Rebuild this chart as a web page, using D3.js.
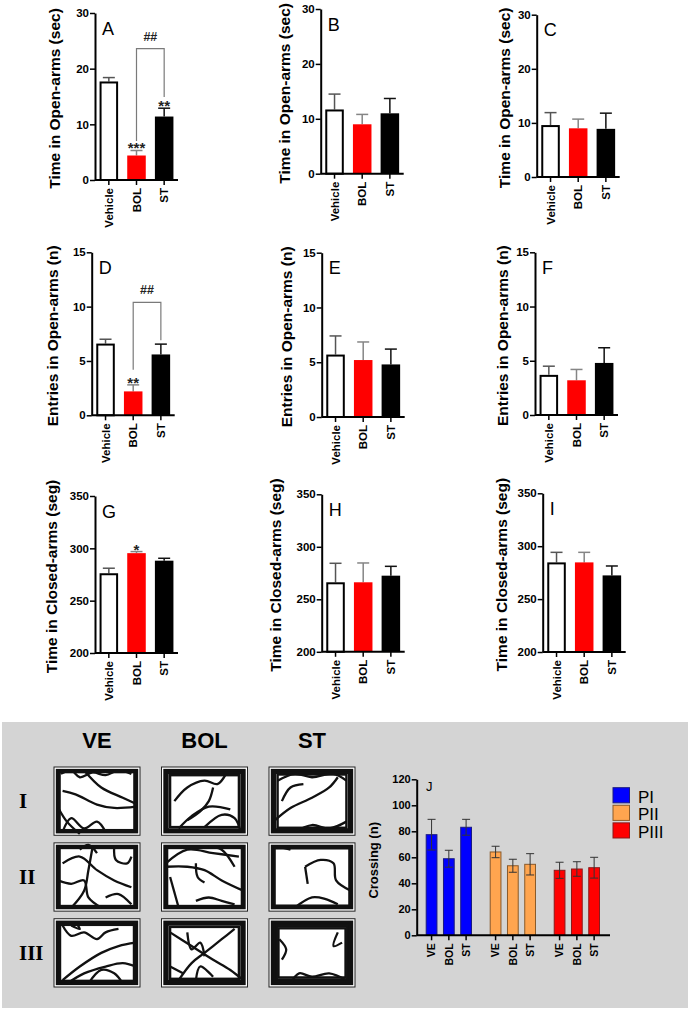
<!DOCTYPE html>
<html><head><meta charset="utf-8">
<script src="https://cdn.jsdelivr.net/npm/d3@7"></script>
<style>body{margin:0;background:#fff;} svg{display:block;font-family:"Liberation Sans",Arial,sans-serif;}</style>
</head><body><svg id="c" width="690" height="1010"></svg>
<script>
// ---------------- DATA ----------------
const groups = ["Vehicle", "BOL", "ST"];
const barColors = ["#ffffff", "#ff0000", "#000000"];
const errColors = ["#555555", "#858585", "#111111"];

const ticksOpenTime = [0, 10, 20, 30];
const ticksEntries = [0, 5, 10, 15];
const ticksClosed = [200, 250, 300, 350];
const ticksCross = [0, 20, 40, 60, 80, 100, 120];

const timeOpenA = [17.7, 4.4, 11.4];   const timeOpenA_sem = [0.7, 0.9, 1.5];
const timeOpenB = [11.7, 9.0, 11.0];   const timeOpenB_sem = [2.8, 1.8, 2.7];
const timeOpenC = [9.6, 9.0, 8.9];     const timeOpenC_sem = [2.3, 1.7, 2.9];
const entriesD = [6.6, 2.2, 5.6];      const entriesD_sem = [0.4, 0.6, 0.95];
const entriesE = [5.7, 5.2, 4.8];      const entriesE_sem = [1.7, 1.65, 1.4];
const entriesF = [3.7, 3.2, 4.8];      const entriesF_sem = [0.8, 1.0, 1.4];
const closedG = [276.2, 295.4, 288.2]; const closedG_sem = [4.8, 1.5, 2.3];
const closedH = [266.2, 266.2, 272.5]; const closedH_sem = [18.1, 18.4, 8.9];
const closedI = [284.7, 284.7, 272.4]; const closedI_sem = [9.5, 9.5, 8.9];

const sigA = ["", "***", "**"];
const sigD = ["", "**", ""];
const sigG = ["", "*", ""];
// bracket: [BOL leg bottom, top, ST leg bottom] in data units
const bracketA = [7.0, 23.6, 14.9];
const bracketD = [4.2, 10.4, 6.9];

const titleOpenTime = "Time in Open-arms (sec)";
const titleEntries = "Entries in Open-arms (n)";
const titleClosed = "Time in Closed-arms (seg)";

const periods = ["PI", "PII", "PIII"];
const crossGroups = ["VE", "BOL", "ST"];
const crossPI = [77.4, 58.9, 83.1];   const crossPI_sem = [11.8, 6.5, 6.1];
const crossPII = [64.1, 53.5, 54.6];  const crossPII_sem = [4.4, 5.0, 8.2];
const crossPIII = [50.0, 51.0, 52.0]; const crossPIII_sem = [6.2, 5.6, 8.0];
const periodColors = ["#0000ff", "#ffa54f", "#ff0000"];
const periodStroke = ["#1a1a80", "#8a5a2a", "#8b1a1a"];

const trackCols = ["VE", "BOL", "ST"];
const trackRows = ["I", "II", "III"];
// illustrative open-field trajectories (normalized box coordinates)
const trackLoops = [
  [[0.035,0.045],[0.05,0.06],[0.065,0.075]], [[0.035,0.045],[0.05,0.06],[0.07,0.085],[0.1,0.12]], [[0.035,0.045],[0.05,0.06],[0.07,0.085],[0.1,0.11]],
  [[0.035,0.045],[0.05,0.06],[0.065,0.075]], [[0.035,0.045],[0.05,0.06],[0.065,0.075]], [[0.035,0.045],[0.05,0.06],[0.065,0.08]],
  [[0.035,0.045],[0.05,0.06],[0.07,0.09]], [[0.035,0.045],[0.05,0.06],[0.07,0.085],[0.1,0.12]], [[0.035,0.045],[0.05,0.06],[0.07,0.085],[0.09,0.11],[0.11,0.14]]
];
const trackPaths = [
  [[[0.08,0.1],[0.2,0.05],[0.3,0.15],[0.45,0.08],[0.6,0.12],[0.75,0.05],[0.9,0.1]],
   [[0.35,0.05],[0.55,0.3],[0.8,0.45],[0.97,0.55]],
   [[0.1,0.35],[0.25,0.4],[0.5,0.55],[0.7,0.6],[0.95,0.58]],
   [[0.1,0.95],[0.2,0.75],[0.35,0.9],[0.5,0.8],[0.6,0.95]],
   [[0.05,0.6],[0.15,0.8],[0.3,0.98]]],
  [[[0.15,0.5],[0.3,0.3],[0.5,0.2],[0.65,0.25],[0.75,0.1]],
   [[0.2,0.9],[0.35,0.72],[0.55,0.58],[0.8,0.62]],
   [[0.5,0.88],[0.7,0.7],[0.85,0.75],[0.92,0.95]],
   [[0.6,0.3],[0.55,0.5],[0.45,0.65],[0.3,0.78]]],
  [[[0.1,0.2],[0.3,0.1],[0.5,0.15],[0.75,0.1],[0.9,0.2]],
   [[0.05,0.8],[0.25,0.6],[0.5,0.45],[0.7,0.3],[0.8,0.15]],
   [[0.15,0.5],[0.25,0.3],[0.4,0.25]],
   [[0.3,0.95],[0.5,0.85],[0.7,0.9],[0.9,0.8]]],
  [[[0.1,0.3],[0.3,0.2],[0.5,0.4],[0.7,0.55],[0.9,0.65]],
   [[0.45,0.05],[0.4,0.4],[0.35,0.7],[0.2,0.95]],
   [[0.05,0.55],[0.2,0.6],[0.35,0.55],[0.4,0.8],[0.55,0.95]],
   [[0.3,0.1],[0.4,0.03],[0.5,0.15]],
   [[0.7,0.05],[0.72,0.25],[0.85,0.3],[0.9,0.2]],
   [[0.6,0.8],[0.75,0.75],[0.9,0.9]]],
  [[[0.05,0.3],[0.3,0.1],[0.6,0.15],[0.9,0.2]],
   [[0.05,0.35],[0.3,0.35],[0.5,0.4],[0.7,0.55],[0.95,0.7]],
   [[0.4,0.3],[0.42,0.5],[0.5,0.58]],
   [[0.1,0.5],[0.2,0.95]],
   [[0.4,0.85],[0.55,0.8],[0.7,0.85],[0.85,0.9]],
   [[0.55,0.05],[0.7,0.1],[0.85,0.35]]],
  [[[0.42,0.35],[0.45,0.6]],
   [[0.42,0.35],[0.6,0.25],[0.75,0.3],[0.78,0.55],[0.95,0.7]],
   [[0.3,0.95],[0.5,0.8],[0.65,0.82],[0.8,0.9]],
   [[0.1,0.05],[0.25,0.1]]],
  [[[0.1,0.1],[0.2,0.25],[0.35,0.2],[0.5,0.3],[0.6,0.2],[0.75,0.15]],
   [[0.1,0.9],[0.3,0.7],[0.55,0.5],[0.75,0.4],[0.95,0.35]],
   [[0.15,0.95],[0.35,0.8],[0.6,0.7],[0.8,0.65],[0.95,0.7]],
   [[0.4,0.95],[0.55,0.75],[0.7,0.8],[0.8,0.95]],
   [[0.2,0.1],[0.3,0.15],[0.25,0.05]]],
  [[[0.1,0.2],[0.35,0.4],[0.6,0.6],[0.8,0.75],[0.95,0.9]],
   [[0.2,0.9],[0.35,0.65],[0.5,0.5],[0.7,0.3],[0.85,0.15]],
   [[0.3,0.2],[0.35,0.45],[0.45,0.35],[0.5,0.55]],
   [[0.4,0.9],[0.45,0.7],[0.6,0.85]],
   [[0.1,0.7],[0.25,0.8]]],
  [[[0.12,0.3],[0.2,0.45],[0.15,0.6]],
   [[0.8,0.2],[0.75,0.4],[0.85,0.35]],
   [[0.25,0.95],[0.35,0.8],[0.5,0.85],[0.7,0.8],[0.9,0.9]]]
];

// ---------------- LAYOUT ----------------
const svg = d3.select("#c");
const panels = [
  {id:"A", mean:timeOpenA, sem:timeOpenA_sem, ticks:ticksOpenTime, title:titleOpenTime, ax:95,    y0:180,   yT:13,    tx:55,  sig:sigA, br:bracketA},
  {id:"B", mean:timeOpenB, sem:timeOpenB_sem, ticks:ticksOpenTime, title:titleOpenTime, ax:320.7, y0:173.7, yT:9,     tx:285},
  {id:"C", mean:timeOpenC, sem:timeOpenC_sem, ticks:ticksOpenTime, title:titleOpenTime, ax:536.7, y0:177,   yT:14.7,  tx:505},
  {id:"D", mean:entriesD,  sem:entriesD_sem,  ticks:ticksEntries,  title:titleEntries,  ax:91.7,  y0:415.3, yT:252.3, tx:53,  sig:sigD, br:bracketD},
  {id:"E", mean:entriesE,  sem:entriesE_sem,  ticks:ticksEntries,  title:titleEntries,  ax:321.7, y0:417,   yT:252.7, tx:287},
  {id:"F", mean:entriesF,  sem:entriesF_sem,  ticks:ticksEntries,  title:titleEntries,  ax:535,   y0:415,   yT:252.3, tx:503},
  {id:"G", mean:closedG,   sem:closedG_sem,   ticks:ticksClosed,   title:titleClosed,   ax:95,    y0:653,   yT:496,   tx:52,  sig:sigG},
  {id:"H", mean:closedH,   sem:closedH_sem,   ticks:ticksClosed,   title:titleClosed,   ax:321.7, y0:651.8, yT:494.3, tx:276},
  {id:"I", mean:closedI,   sem:closedI_sem,   ticks:ticksClosed,   title:titleClosed,   ax:542.7, y0:652,   yT:493.3, tx:502}
];

function styleAxis(sel, fs) {
  sel.select(".domain").attr("stroke", "#000").attr("stroke-width", 2);
  sel.selectAll(".tick line").attr("stroke", "#000").attr("stroke-width", 1.5);
  sel.selectAll(".tick text").attr("fill", "#000").style("font-weight", "bold").style("font-size", fs + "px");
}

function drawPanel(p) {
  const g = svg.append("g");
  const y = d3.scaleLinear().domain([p.ticks[0], p.ticks[p.ticks.length - 1]]).range([p.y0, p.yT]);
  const x = d3.scaleBand().domain(groups).range([p.ax, p.ax + 83]).paddingInner(0.33).paddingOuter(0.165);
  const bw = x.bandwidth();

  // error bars (upper only)
  groups.forEach((k, i) => {
    const cx = x(k) + bw / 2;
    const yt = y(p.mean[i] + p.sem[i]);
    g.append("line").attr("x1", cx).attr("x2", cx).attr("y1", y(p.mean[i])).attr("y2", yt)
      .attr("stroke", errColors[i]).attr("stroke-width", 1.5);
    g.append("line").attr("x1", cx - 6).attr("x2", cx + 6).attr("y1", yt).attr("y2", yt)
      .attr("stroke", errColors[i]).attr("stroke-width", 1.5);
  });
  // bars
  g.selectAll("rect.bar").data(groups).join("rect")
    .attr("x", (d, i) => x(d) + (i === 0 ? 1 : 0))
    .attr("width", (d, i) => bw - (i === 0 ? 2 : 0))
    .attr("y", (d, i) => y(p.mean[i]) + (i === 0 ? 1 : 0))
    .attr("height", (d, i) => p.y0 - y(p.mean[i]) - (i === 0 ? 1 : 0))
    .attr("fill", (d, i) => barColors[i])
    .attr("stroke", (d, i) => i === 0 ? "#000" : "none")
    .attr("stroke-width", 2);

  // axes
  const ya = g.append("g").attr("transform", `translate(${p.ax},0)`)
    .call(d3.axisLeft(y).tickValues(p.ticks).tickSize(5).tickSizeOuter(0).tickPadding(1));
  styleAxis(ya, 11.5);
  const xa = g.append("g").attr("transform", `translate(0,${p.y0})`)
    .call(d3.axisBottom(x).tickSize(5).tickSizeOuter(0));
  xa.select(".domain").attr("d", `M${p.ax},0H${p.ax + 83}`);
  styleAxis(xa, 11.5);
  xa.selectAll(".tick text").attr("transform", "rotate(-90)").attr("x", -8).attr("y", 0)
    .attr("dy", "0.35em").attr("text-anchor", "end");

  // title
  g.append("text").attr("transform", `translate(${p.tx},${(p.y0 + p.yT) / 2 + 2}) rotate(-90)`)
    .attr("text-anchor", "middle").attr("dy", "0.35em")
    .style("font-weight", "bold").style("font-size", "15.5px").text(p.title);
  // panel letter
  g.append("text").attr("x", p.ax + 7).attr("y", p.yT + 21.5).style("font-size", "18px").text(p.id);

  // significance
  if (p.sig) {
    groups.forEach((k, i) => {
      if (!p.sig[i]) return;
      g.append("text").attr("x", x(k) + bw / 2).attr("y", y(p.mean[i] + p.sem[i]) + 3)
        .attr("text-anchor", "middle").style("font-size", "15px").style("font-weight", "bold")
        .attr("fill", "#222").text(p.sig[i]);
    });
  }
  if (p.br) {
    const x1 = x("BOL") + bw / 2, x2 = x("ST") + bw / 2;
    g.append("path")
      .attr("d", `M${x1},${y(p.br[0])}V${y(p.br[1])}H${x2}V${y(p.br[2])}`)
      .attr("fill", "none").attr("stroke", "#7a7a7a").attr("stroke-width", 1.2);
    g.append("text").attr("x", (x1 + x2) / 2).attr("y", y(p.br[1]) - 8)
      .attr("text-anchor", "middle").style("font-size", "12.5px").style("font-weight", "bold")
      .attr("fill", "#222").text("##");
  }
}
panels.forEach(drawPanel);

// ---------------- BOTTOM PANEL ----------------
svg.append("rect").attr("x", 2).attr("y", 722).attr("width", 686).attr("height", 286).attr("fill", "#d4d4d4");

const colX = d3.scaleBand().domain(trackCols).range([54, 355]).paddingInner(0.2);
const rowY = d3.scaleBand().domain(trackRows).range([767, 987]).paddingInner(0.1);
trackCols.forEach(c => {
  svg.append("text").attr("x", colX(c) + colX.bandwidth() / 2).attr("y", 748)
    .attr("text-anchor", "middle").style("font-weight", "bold").style("font-size", "22px").text(c);
});
trackRows.forEach(r => {
  svg.append("text").attr("x", 19).attr("y", rowY(r) + rowY.bandwidth() / 2 + 7)
    .style("font-family", "'Liberation Serif','Times New Roman',serif")
    .style("font-weight", "bold").style("font-size", "21px").text(r);
});
const tline = d3.line().curve(d3.curveCatmullRom.alpha(0.5));
trackRows.forEach((r, ri) => {
  trackCols.forEach((c, ci) => {
    const idx = ri * 3 + ci;
    const bx = colX(c), by = rowY(r), w = colX.bandwidth(), h = rowY.bandwidth();
    const sx = d3.scaleLinear().domain([0, 1]).range([bx, bx + w]);
    const sy = d3.scaleLinear().domain([0, 1]).range([by, by + h]);
    const bg = svg.append("g");
    bg.append("rect").attr("x", bx).attr("y", by).attr("width", w).attr("height", h)
      .attr("fill", "#fff").attr("stroke", "#222").attr("stroke-width", 1);
    trackLoops[idx].forEach(([ix, iy]) => {
      bg.append("rect").attr("x", sx(ix)).attr("y", sy(iy)).attr("width", sx(1 - ix) - sx(ix))
        .attr("height", sy(1 - iy) - sy(iy)).attr("fill", "none").attr("stroke", "#111").attr("stroke-width", 2.4);
    });
    trackPaths[idx].forEach(pts => {
      bg.append("path").attr("d", tline(pts.map(([u, v]) => [sx(u), sy(v)])))
        .attr("fill", "none").attr("stroke", "#111").attr("stroke-width", 2.3);
    });
  });
});

// Crossing chart J
(function () {
  const ax = 416.7, y0 = 935.3, yT = 779.3;
  const y = d3.scaleLinear().domain([0, 120]).range([y0, yT]);
  const xo = d3.scaleBand().domain(periods).range([ax + 9, ax + 183.3]).paddingInner(0.277).paddingOuter(0);
  const xi = d3.scaleBand().domain(crossGroups).range([0, xo.bandwidth()]).paddingInner(0.32).paddingOuter(0);
  const means = [crossPI, crossPII, crossPIII];
  const sems = [crossPI_sem, crossPII_sem, crossPIII_sem];
  const g = svg.append("g");
  periods.forEach((p, pi) => {
    const gg = g.append("g").attr("transform", `translate(${xo(p)},0)`);
    gg.selectAll("rect").data(crossGroups).join("rect")
      .attr("x", d => xi(d) + 0.5).attr("width", xi.bandwidth() - 1)
      .attr("y", (d, i) => y(means[pi][i])).attr("height", (d, i) => y0 - y(means[pi][i]))
      .attr("fill", periodColors[pi]).attr("stroke", periodStroke[pi]).attr("stroke-width", 1);
    crossGroups.forEach((d, i) => {
      const cx = xi(d) + xi.bandwidth() / 2;
      const a = y(means[pi][i] + sems[pi][i]), b = y(means[pi][i] - sems[pi][i]);
      gg.append("path").attr("d", `M${cx},${a}V${b}M${cx - 4},${a}H${cx + 4}M${cx - 4},${b}H${cx + 4}`)
        .attr("stroke", "#333").attr("stroke-width", 1).attr("fill", "none");
    });
    const xa = gg.append("g").attr("transform", `translate(0,${y0})`).call(d3.axisBottom(xi).tickSize(5).tickSizeOuter(0));
    xa.select(".domain").remove();
    styleAxis(xa, 10.5);
    xa.selectAll(".tick text").attr("transform", "rotate(-90)").attr("x", -8).attr("y", 0)
      .attr("dy", "0.35em").attr("text-anchor", "end");
  });
  const ya = g.append("g").attr("transform", `translate(${ax},0)`)
    .call(d3.axisLeft(y).tickValues(ticksCross).tickSize(5).tickSizeOuter(0).tickPadding(1));
  styleAxis(ya, 11);
  g.append("line").attr("x1", ax).attr("x2", ax + 193.3).attr("y1", y0).attr("y2", y0)
    .attr("stroke", "#000").attr("stroke-width", 2);
  g.append("text").attr("transform", `translate(373,${(y0 + yT) / 2 + 3}) rotate(-90)`)
    .attr("text-anchor", "middle").attr("dy", "0.35em")
    .style("font-weight", "bold").style("font-size", "13px").text("Crossing (n)");
  g.append("text").attr("x", 426).attr("y", 791).style("font-size", "13px").text("J");
  // legend
  const ly = d3.scaleBand().domain(periods).range([787.7, 838]).paddingInner(0.14);
  periods.forEach((p, i) => {
    g.append("rect").attr("x", 613).attr("y", ly(p)).attr("width", 16.5).attr("height", ly.bandwidth())
      .attr("fill", periodColors[i]).attr("stroke", periodStroke[i]).attr("stroke-width", 1);
    g.append("text").attr("x", 638).attr("y", ly(p) + ly.bandwidth()).style("font-size", "17px").text(p);
  });
})();
</script></body></html>
